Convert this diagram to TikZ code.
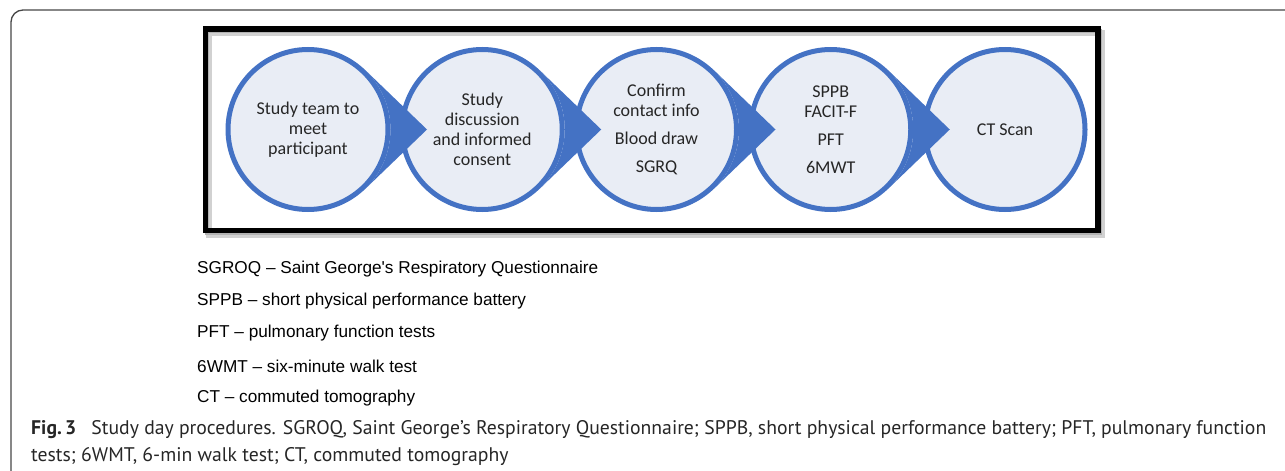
\documentclass[tikz,border=0pt]{standalone}
\usepackage{fontspec}
\setmainfont{Carlito}
\newfontfamily\legfont{Liberation Sans}[Ligatures=TeXOff]
\newfontfamily\capfont{PT Sans}
\usetikzlibrary{calc}
\definecolor{oblue}{RGB}{68,114,196}
\definecolor{lfill}{RGB}{233,237,245}
\definecolor{txt}{RGB}{38,38,38}
\definecolor{framecol}{RGB}{70,70,70}
\begin{document}
\begin{tikzpicture}[x=1pt,y=-1pt,
  stepcircle/.style={circle, draw=oblue, fill=lfill, line width=5pt, minimum size=160pt,
    inner sep=0pt, text=txt, align=center, font=\fontsize{18}{20}\selectfont},
  legend/.style={anchor=west, inner sep=0pt, font=\legfont\fontsize{17.2}{20}\selectfont},
  captext/.style={anchor=base west, inner sep=0pt, text=txt, font=\capfont\fontsize{19.7}{23}\selectfont}]
\useasboundingbox (0,0) rectangle (1285,471);
% outer frame
\draw[framecol, line width=1.3pt, rounded corners=12pt] (11,472) -- (11,10) -- (1286,10);
% inner box with shadow
\draw[black!18, line width=6pt] (209,33) rectangle (1102,235);
\draw[black!30, line width=4pt] (207,31) rectangle (1100,233);
\draw[black, line width=5.5pt] (205.5,29) rectangle (1098,230.5);
% circles
\node[stepcircle] (c1) at (308,129.5) {Study team to\\meet\\participant};
\node[stepcircle] (c2) at (482.25,129.5) {Study\\discussion\\and informed\\consent};
\node[stepcircle] (c3) at (656.5,129.5) {Confirm\\contact info\\[8pt]Blood draw\\[8pt]SGRQ};
\node[stepcircle] (c4) at (830.75,129.5) {SPPB\\FACIT-F\\[8pt]PFT\\[8pt]6MWT};
\node[stepcircle] (c5) at (1005,129.5) {CT Scan};
% pointed tips
\foreach \n in {c1,c2,c3,c4}
  \fill[oblue] ($(\n.center)+(119,0)$) -- ($(\n.center)+(46:82.5)$)
     arc[start angle=46,end angle=-46,radius=82.5] -- cycle;
% legend
\node[legend] (l1) at (197,269) {SGROQ – Saint George's Respiratory Questionnaire};
\node[legend] (l2) at (197,301.5) {SPPB – short physical performance battery};
\node[legend] (l3) at (197,333.5) {PFT – pulmonary function tests};
\node[legend] (l4) at (197,366) {6WMT – six-minute walk test};
\node[legend] (l5) at (197,398) {CT – commuted tomography};
% caption
\node[captext] (cap1) at (31,434.5) {\textbf{Fig.\,3}\hspace{0.5em} Study day procedures. SGROQ, Saint George’s Respiratory Questionnaire; SPPB, short physical performance battery; PFT, pulmonary function};
\node[captext] (cap2) at (31,461.5) {tests; 6WMT, 6-min walk test; CT, commuted tomography};
\end{tikzpicture}
\end{document}
